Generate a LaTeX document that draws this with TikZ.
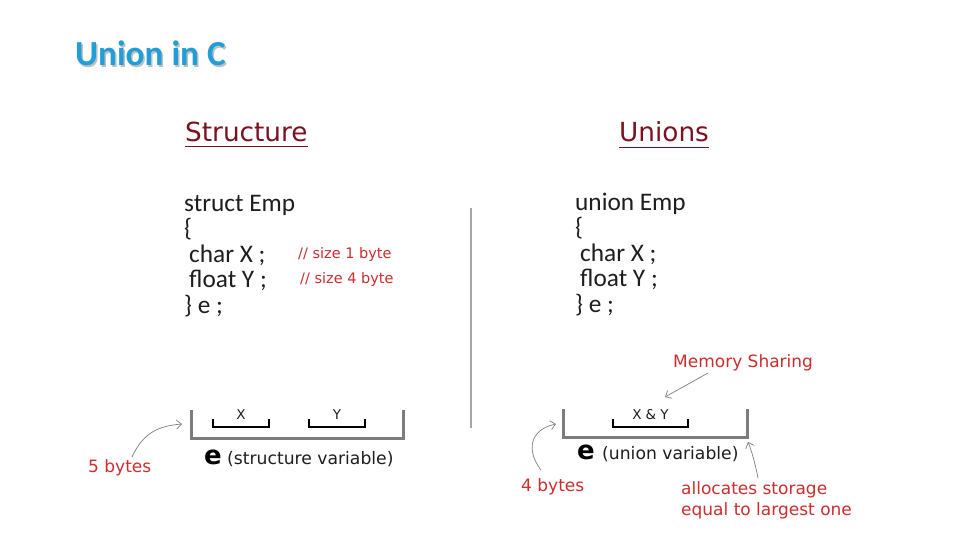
\documentclass[tikz,border=0pt]{standalone}
\usepackage{fontspec}
\setmainfont{DejaVu Sans}
\newfontfamily\carlitofont{Carlito}
\usetikzlibrary{arrows.meta}
\definecolor{titleblue}{RGB}{32,158,216}
\definecolor{headred}{RGB}{122,18,34}
\definecolor{notered}{RGB}{205,45,45}
\definecolor{codeblack}{RGB}{30,30,30}
\definecolor{boxgray}{RGB}{125,125,125}
\tikzset{
  code/.style={anchor=base west, inner sep=0pt, text=codeblack, font=\carlitofont\fontsize{25.3}{25}\selectfont},
  heading/.style={anchor=base west, inner sep=0pt, text=headred, font=\fontsize{26.3}{26}\selectfont},
  comment/.style={anchor=base west, inner sep=0pt, text=notered, font=\fontsize{14.5}{15}\selectfont},
  note/.style={anchor=base west, inner sep=0pt, text=notered, font=\fontsize{17}{18}\selectfont},
  varname/.style={anchor=base west, inner sep=0pt, text=codeblack, font=\fontsize{17.2}{18}\selectfont},
  bigE/.style={anchor=base west, inner sep=0pt, text=black, font=\bfseries\fontsize{26}{26}\selectfont},
  fieldlbl/.style={anchor=base, inner sep=0pt, text=codeblack, font=\fontsize{13.5}{14}\selectfont},
  memory/.style={draw=boxgray, line width=3pt},
  field/.style={draw=black, line width=1.3pt},
  pointer/.style={draw=gray, line width=0.7pt, -{Straight Barb[length=5pt,width=9pt]}},
}
\begin{document}
\begin{tikzpicture}[x=1pt,y=-1pt]
\useasboundingbox (0,0) rectangle (960,540);
\fill[white] (0,0) rectangle (960,540);
% title
\node[anchor=base west, inner sep=0pt, text=black!25, font=\carlitofont\bfseries\fontsize{35.2}{35}\selectfont] at (76.5,67.5) {Union in C};
\node (title) [anchor=base west, inner sep=0pt, text=titleblue, font=\carlitofont\bfseries\fontsize{35.2}{35}\selectfont] at (75,66) {Union in C};
% headings
\node (shead) [heading] at (185,142) {Structure};
\draw[headred, line width=1.8pt] (shead.south west |- 0,146.5) -- (shead.south east |- 0,146.5);
\node (uhead) [heading] at (619,142) {Unions};
\draw[headred, line width=1.8pt] (uhead.south west |- 0,147.5) -- (uhead.south east |- 0,147.5);
% structure code
\node (s1) [code] at (184,211) {struct Emp};
\node (s2) [code] at (184,236.5) {\{};
\node (s3) [code] at (189,262) {char X ;};
\node (s4) [code] at (189,287.5) {float Y ;};
\node (s5) [code] at (184,313) {\} e ;};
\node (c1) [comment] at (298,258) {// size 1 byte};
\node (c2) [comment] at (300,283.5) {// size 4 byte};
% union code
\node (u1) [code] at (575,210) {union Emp};
\node (u2) [code] at (575,235.5) {\{};
\node (u3) [code] at (580,261) {char X ;};
\node (u4) [code] at (580,286.5) {float Y ;};
\node (u5) [code] at (575,312) {\} e ;};
% divider
\draw[black!35, line width=1.8pt] (471,208) -- (471,428);
% structure memory
\draw[memory] (191,410) -- (191,438) -- (403,438) -- (403,410);
\draw[field] (213,419) -- (213,427) -- (269,427) -- (269,419);
\draw[field] (309,419) -- (309,427) -- (365,427) -- (365,419);
\node (lx) [fieldlbl] at (241,419) {X};
\node (ly) [fieldlbl] at (337,419) {Y};
\node (se) [bigE] at (204,464) {e};
\node (sv) [varname] at (227,464) {(structure variable)};
\node (five) [note] at (88,472) {5 bytes};
\coordinate (sleft) at (182,424);
\draw[pointer] (132,457) .. controls (143,433) and (158,426) .. (sleft);
% union memory
\draw[memory] (563,409) -- (563,437) -- (747,437) -- (747,409);
\draw[field] (613,419) -- (613,427) -- (688,427) -- (688,419);
\node (lxy) [fieldlbl] at (650.5,419) {X\hspace{4pt}\&\hspace{4pt}Y};
\node (ue) [bigE] at (577,459) {e};
\node (uv) [varname] at (602,459) {(union variable)};
\node (mem) [note] at (673,367) {Memory Sharing};
\coordinate (memtip) at (665,397);
\draw[pointer] (708,373) -- (memtip);
\node (four) [note] at (521,491) {4 bytes};
\coordinate (uleft) at (556,424);
\draw[pointer] (541,470) .. controls (527,452) and (528,430) .. (uleft);
\node (alloc1) [note] at (681,494) {allocates storage};
\node (alloc2) [note] at (681,515) {equal to largest one};
\coordinate (uright) at (748,442);
\draw[pointer] (758,478) .. controls (755,463) and (752,452) .. (uright);
\end{tikzpicture}
\end{document}
